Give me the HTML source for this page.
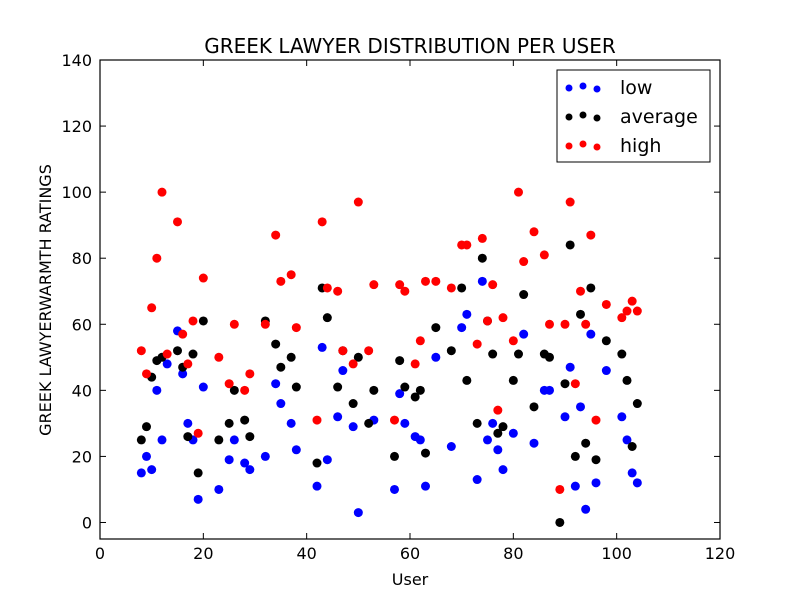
<!DOCTYPE html>
<html><head><meta charset="utf-8"><style>
html,body{margin:0;padding:0;background:#fff;}
body{position:relative;width:800px;height:600px;overflow:hidden;}
svg text{font-family:"DejaVu Sans","Liberation Sans",sans-serif;fill:#000;}
</style></head><body>
<svg id="chart" width="800" height="600" xmlns="http://www.w3.org/2000/svg">
<rect width="800" height="600" fill="#fff"/>
<g id="marks"></g>
<g id="axes"></g>
</svg>
<script>
const xTicks=[0,20,40,60,80,100,120];
const yTicks=[0,20,40,60,80,100,120,140];
const lowX=[8,9,10,11,12,13,15,16,17,18,19,20,23,25,26,28,29,32,34,35,37,38,42,43,44,46,47,49,50,53,57,58,59,61,62,63,65,68,70,71,73,74,75,76,77,78,80,82,84,86,87,90,91,92,93,94,95,96,98,101,102,103,104];
const lowY=[15,20,16,40,25,48,58,45,30,25,7,41,10,19,25,18,16,20,42,36,30,22,11,53,19,32,46,29,3,31,10,39,30,26,25,11,50,23,59,63,13,73,25,30,22,16,27,57,24,40,40,32,47,11,35,4,57,12,46,32,25,15,12];
const avgX=[8,9,10,11,12,15,16,17,18,19,20,23,25,26,28,29,32,34,35,37,38,42,43,44,46,47,49,50,52,53,57,58,59,61,62,63,65,68,70,71,73,74,75,76,77,78,80,81,82,84,86,87,89,90,91,92,93,94,95,96,98,101,102,103,104];
const avgY=[25,29,44,49,50,52,47,26,51,15,61,25,30,40,31,26,61,54,47,50,41,18,71,62,41,52,36,50,30,40,20,49,41,38,40,21,59,52,71,43,30,80,61,51,27,29,43,51,69,35,51,50,0,42,84,20,63,24,71,19,55,51,43,23,36];
const highX=[8,9,10,11,12,13,15,16,17,18,19,20,23,25,26,28,29,32,34,35,37,38,42,43,44,46,47,49,50,52,53,57,58,59,61,62,63,65,68,70,71,73,74,75,76,77,78,80,81,82,84,86,87,89,90,91,92,93,94,95,96,98,101,102,103,104];
const highY=[52,45,65,80,100,51,91,57,48,61,27,74,50,42,60,40,45,60,87,73,75,59,31,91,71,70,52,48,97,52,72,31,72,70,48,55,73,73,71,84,84,54,86,61,72,34,62,55,100,79,88,81,60,10,60,97,42,70,60,87,31,66,62,64,67,64];
const seriesNames=["low","average","high"];
const colors=["#0000ff","#000000","#ff0000"];

const L=100,R=720,T=60,B=539;
const xMin=0,xMax=120,yMin=-5,yMax=140;
function sx(v){return L+(v-xMin)/(xMax-xMin)*(R-L);}
function sy(v){return B-(v-yMin)/(yMax-yMin)*(B-T);}
const NS="http://www.w3.org/2000/svg";
function mk(tag,attrs,parent){const e=document.createElementNS(NS,tag);for(const k in attrs)e.setAttribute(k,attrs[k]);parent.appendChild(e);return e;}
const marks=document.getElementById('marks');
const axes=document.getElementById('axes');
const data=[[lowX,lowY],[avgX,avgY],[highX,highY]];
data.forEach((d,si)=>{
  const g=mk('g',{},marks);
  
  
  d[0].forEach((xv,i)=>{
    const c=mk('circle',{cx:sx(xv),cy:sy(d[1][i]),r:4.5,fill:colors[si]},g);
    
    
  });
});
const frame=mk('rect',{x:L,y:T,width:R-L,height:B-T,fill:'none',stroke:'#000','stroke-width':1.2},axes);


xTicks.forEach(t=>{
  const x=sx(t);
  mk('line',{x1:x,y1:B,x2:x,y2:B-6,stroke:'#000'},axes);
  mk('line',{x1:x,y1:T,x2:x,y2:T+6,stroke:'#000'},axes);
  const tx=mk('text',{x:x,y:B+20,'text-anchor':'middle','font-size':16},axes);
  tx.textContent=t;
  
  
});
yTicks.forEach(t=>{
  const y=sy(t);
  mk('line',{x1:L,y1:y,x2:L+6,y2:y,stroke:'#000'},axes);
  mk('line',{x1:R,y1:y,x2:R-6,y2:y,stroke:'#000'},axes);
  const tx=mk('text',{x:L-8,y:y+6,'text-anchor':'end','font-size':16},axes);
  tx.textContent=t;
  
  
});
</script>
<svg style="position:absolute;left:0;top:0" width="800" height="600" xmlns="http://www.w3.org/2000/svg">
<text x="410" y="53" text-anchor="middle" font-size="20">GREEK LAWYER DISTRIBUTION PER USER</text>
<text x="410" y="585" text-anchor="middle" font-size="16">User</text>
<text x="51" y="300" text-anchor="middle" font-size="16" transform="rotate(-90 51 300)">GREEK LAWYERWARMTH RATINGS</text>
<g>
<rect x="557" y="70" width="153" height="92" fill="#fff" stroke="#000" stroke-width="1"/>
<g>
<circle cx="569" cy="88" r="3.5" fill="#0000ff"/><circle cx="583" cy="86" r="3.5" fill="#0000ff"/><circle cx="597" cy="89" r="3.5" fill="#0000ff"/>
<text x="620" y="94" font-size="19">low</text></g>
<g>
<circle cx="569" cy="117" r="3.5" fill="#000"/><circle cx="583" cy="115" r="3.5" fill="#000"/><circle cx="597" cy="118" r="3.5" fill="#000"/>
<text x="620" y="123" font-size="19">average</text></g>
<g>
<circle cx="569" cy="146" r="3.5" fill="#ff0000"/><circle cx="583" cy="144" r="3.5" fill="#ff0000"/><circle cx="597" cy="147" r="3.5" fill="#ff0000"/>
<text x="620" y="152" font-size="19">high</text></g>
</g>
</svg>
</body></html>
